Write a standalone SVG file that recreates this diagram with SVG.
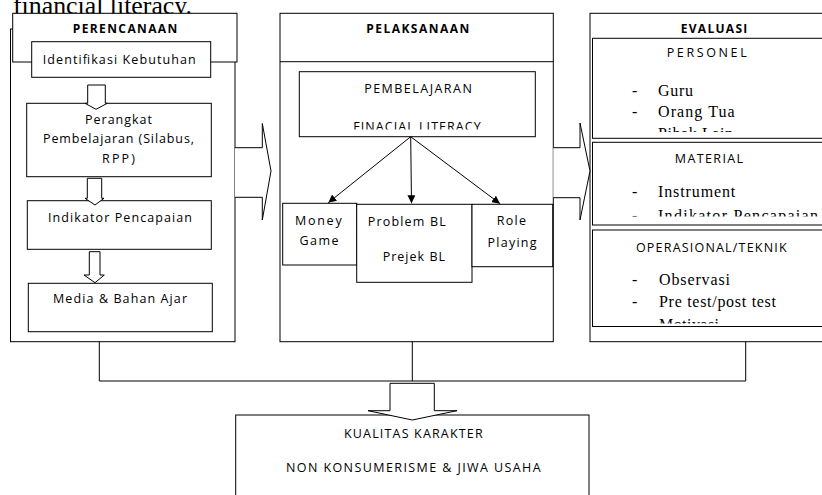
<svg xmlns="http://www.w3.org/2000/svg" width="822" height="495" viewBox="0 0 822 495">
<style>
.box{fill:#fff;stroke:#000;stroke-width:1}
.ln{fill:none;stroke:#000;stroke-width:1}
.blk{fill:#fff;stroke:#000;stroke-width:1}
.t{font-family:"Open Sans","DejaVu Sans",sans-serif;font-size:12.5px;fill:#000}
.c{text-anchor:middle}
.h{font-weight:bold;font-size:12px}
.s{font-family:"Liberation Serif","Times New Roman",serif;font-size:16px;fill:#000}
</style>
<defs>
<marker id="ah" viewBox="0 0 10 10" refX="10" refY="5" markerWidth="8" markerHeight="8" markerUnits="userSpaceOnUse" orient="auto"><path d="M0,0 L10,5 L0,10 z" fill="#000"/></marker>
<clipPath id="cFin"><rect x="299" y="72" width="236" height="57.5"/></clipPath>
<clipPath id="cPer"><rect x="592" y="38" width="240" height="94"/></clipPath>
<clipPath id="cMat"><rect x="592" y="142" width="240" height="74.5"/></clipPath>
<clipPath id="cOpe"><rect x="592" y="230" width="240" height="93.5"/></clipPath>
</defs>
<rect width="822" height="495" fill="#fff"/>
<text x="13" y="14" font-family="Liberation Serif,'Times New Roman',serif" font-size="26" textLength="179" lengthAdjust="spacingAndGlyphs">financial literacy.</text>

<g id="perencanaan">
<rect class="box" x="10.5" y="29" width="224.5" height="312.7"/>
<rect class="box" x="12.7" y="13.3" width="224.3" height="48.7"/>
<text class="t c h" x="125" y="33.3" textLength="104.6">PERENCANAAN</text>
</g>
<g id="identifikasi">
<rect class="box" x="31.7" y="41.7" width="179" height="35.6"/>
<text class="t c" x="119.2" y="64" textLength="153">Identifikasi Kebutuhan</text>
</g>
<g id="perangkat">
<rect class="box" x="26.7" y="103.3" width="184.6" height="73.4"/>
<text class="t c" x="118.5" y="124" textLength="67">Perangkat</text>
<text class="t c" x="118.5" y="143.3" textLength="151">Pembelajaran (Silabus,</text>
<text class="t c" x="118.5" y="163.3" textLength="33">RPP)</text>
</g>
<g id="indikator">
<rect class="box" x="27.3" y="200.7" width="184" height="48.6"/>
<text class="t c" x="120" y="222.3" textLength="144">Indikator Pencapaian</text>
</g>
<g id="media">
<rect class="box" x="28.3" y="283.3" width="184" height="48.4"/>
<text class="t c" x="120" y="303.3" textLength="134">Media &amp; Bahan Ajar</text>
</g>

<g id="pelaksanaan">
<rect class="box" x="280" y="13.3" width="273.3" height="328.4"/>
<line class="ln" x1="280" y1="61.7" x2="553.3" y2="61.7"/>
<text class="t c h" x="417.7" y="33.3" textLength="103">PELAKSANAAN</text>
</g>
<g id="pembelajaran">
<rect class="box" x="299.3" y="71.7" width="236" height="65"/>
<text class="t c" x="418" y="93.3" textLength="107.7">PEMBELAJARAN</text>
<text class="t c" x="417" y="131.2" textLength="127.4" clip-path="url(#cFin)">FINACIAL LITERACY</text>
</g>
<g id="money-game">
<rect class="box" x="282.7" y="203.3" width="74" height="61.7"/>
<text class="t c" x="318.3" y="225" textLength="46.7">Money</text>
<text class="t c" x="319" y="245" textLength="39">Game</text>
</g>
<g id="problem-bl">
<rect class="box" x="356.7" y="204.3" width="115.3" height="78"/>
<text class="t" x="367.7" y="225.7" textLength="78">Problem BL</text>
<text class="t" x="382.7" y="261" textLength="62.3">Prejek BL</text>
</g>
<g id="role-playing">
<rect class="box" x="472" y="204.3" width="80.7" height="62.4"/>
<text class="t c" x="511.3" y="225" textLength="29.3">Role</text>
<text class="t c" x="512" y="247.3" textLength="49">Playing</text>
</g>

<g id="evaluasi">
<rect class="box" x="590" y="13.3" width="250" height="328.4"/>
<text class="t c h" x="714" y="33.3" textLength="66.7">EVALUASI</text>
</g>
<g id="personel">
<rect class="box" x="592.5" y="38.3" width="250" height="100" stroke-width="1.3"/>
<text class="t c" x="706.7" y="56.7" textLength="80">PERSONEL</text>
<text class="s" x="632" y="96.3">-</text>
<text class="s" x="658" y="96.3" textLength="35">Guru</text>
<text class="s" x="632" y="117.3">-</text>
<text class="s" x="658" y="117.3" textLength="76.7">Orang Tua</text>
<g clip-path="url(#cPer)">
<text class="s" x="632" y="139">-</text>
<text class="s" x="658" y="139" textLength="75">Pihak Lain</text>
</g>
</g>
<g id="material">
<rect class="box" x="592.5" y="142.3" width="250" height="82.7" stroke-width="1.3"/>
<text class="t c" x="709" y="162.5" textLength="68.3">MATERIAL</text>
<text class="s" x="632" y="196.7">-</text>
<text class="s" x="658" y="196.7" textLength="77.3">Instrument</text>
<g clip-path="url(#cMat)">
<text class="s" x="632" y="221">-</text>
<text class="s" x="658" y="221" textLength="160">Indikator Pencapaian</text>
</g>
</g>
<g id="operasional">
<rect class="box" x="592.5" y="230" width="250" height="96.5" stroke-width="1.3"/>
<text class="t c" x="711.3" y="251.7" textLength="150.7">OPERASIONAL/TEKNIK</text>
<text class="s" x="632" y="285">-</text>
<text class="s" x="659" y="285" textLength="71">Observasi</text>
<text class="s" x="632" y="306.7">-</text>
<text class="s" x="659" y="306.7" textLength="117">Pre test/post test</text>
<g clip-path="url(#cOpe)">
<text class="s" x="632" y="330">-</text>
<text class="s" x="659" y="330" textLength="60">Motivasi</text>
</g>
</g>

<g id="kualitas">
<rect class="box" x="235.7" y="415" width="353.3" height="90"/>
<text class="t c" x="413.3" y="437.7" textLength="138.7">KUALITAS KARAKTER</text>
<text class="t c" x="413.3" y="471.7" textLength="254.7">NON KONSUMERISME &amp; JIWA USAHA</text>
</g>

<g id="connectors">
<polygon class="blk" points="87.7,85 105.3,85 105.3,103.3 107.3,103.3 96,109.3 85,103.3 87.7,103.3"/>
<polygon class="blk" points="87.3,178.3 101.7,178.3 101.7,198.3 104,198.3 95,205 85,198.3 87.3,198.3"/>
<polygon class="blk" points="89.3,251.7 100,251.7 100,275 104.3,275 95,282.7 84,275 89.3,275"/>
<polyline class="blk" points="235,147.7 262.3,147.7 262.3,123.5 271,171 262.3,220 262.3,197.3 235,197.3"/>
<polyline class="blk" points="553.3,147.7 580,147.7 580,123 590,171 580,220 580,197.7 553.3,197.7"/>
<line class="ln" x1="410.7" y1="136.7" x2="328.3" y2="202.7" marker-end="url(#ah)"/>
<line class="ln" x1="410.7" y1="136.7" x2="411.5" y2="203.3" marker-end="url(#ah)"/>
<line class="ln" x1="410.7" y1="136.7" x2="500" y2="203.7" marker-end="url(#ah)"/>
<polyline class="ln" points="99.3,341.7 99.3,381 745.7,381 745.7,341.7"/>
<line class="ln" x1="412.3" y1="341.7" x2="412.3" y2="381"/>
<polygon class="blk" points="390,383.3 434.3,383.3 434.3,410.7 457,410.7 412.3,420 368,410.7 390,410.7"/>
</g>
</svg>
